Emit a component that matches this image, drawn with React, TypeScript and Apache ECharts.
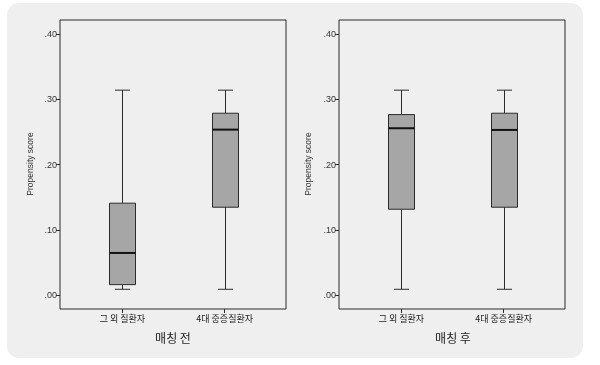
import React, { useEffect, useRef } from "react";
import * as echarts from "echarts";

const categories = ["그 외 질환자", "4대 중증질환자"];
const panelTitles = ["매칭 전", "매칭 후"];
const yTicks = [0, 0.1, 0.2, 0.3, 0.4];
// [min, Q1, median, Q3, max]
const beforeBoxes = [
  [0.0092, 0.0163, 0.0648, 0.141, 0.314],
  [0.0092, 0.1348, 0.2536, 0.2787, 0.314],
];
const afterBoxes = [
  [0.0092, 0.1317, 0.2557, 0.2766, 0.314],
  [0.0092, 0.1348, 0.2531, 0.2787, 0.314],
];

const fmt = (v: number) => "." + Math.round(v * 100).toString().padStart(2, "0");

function renderBox(params: any, api: any) {
  const x = api.value(0);
  const mn = api.value(1), q1 = api.value(2), md = api.value(3), q3 = api.value(4), mx = api.value(5);
  const pMin = api.coord([x, mn]);
  const pQ1 = api.coord([x, q1]);
  const pMd = api.coord([x, md]);
  const pQ3 = api.coord([x, q3]);
  const pMax = api.coord([x, mx]);
  const cx = Math.round(pMin[0]) + 0.5;
  const bw = 26;
  const cw = 15;
  const stroke = "#2b2b2b";
  return {
    type: "group",
    children: [
      { type: "line", shape: { x1: cx, y1: pMax[1], x2: cx, y2: pQ3[1] }, style: { stroke, lineWidth: 1 } },
      { type: "line", shape: { x1: cx, y1: pQ1[1], x2: cx, y2: pMin[1] }, style: { stroke, lineWidth: 1 } },
      { type: "line", shape: { x1: cx - cw / 2, y1: pMax[1], x2: cx + cw / 2, y2: pMax[1] }, style: { stroke, lineWidth: 1 } },
      { type: "line", shape: { x1: cx - cw / 2, y1: pMin[1], x2: cx + cw / 2, y2: pMin[1] }, style: { stroke, lineWidth: 1 } },
      {
        type: "rect",
        shape: { x: cx - bw / 2, y: pQ3[1], width: bw, height: pQ1[1] - pQ3[1] },
        style: { fill: "#a6a6a6", stroke, lineWidth: 1 },
      },
      { type: "line", shape: { x1: cx - bw / 2, y1: pMd[1], x2: cx + bw / 2, y2: pMd[1] }, style: { stroke: "#111", lineWidth: 2 } },
    ],
  };
}

export default function App() {
  const ref = useRef<HTMLDivElement>(null);
  useEffect(() => {
    if (!ref.current) return;
    const chart = echarts.init(ref.current, null, { renderer: "svg" });
    const grids = [
      { left: 60, right: 314, top: 20, bottom: 56 },
      { left: 339, right: 35, top: 20, bottom: 56 },
    ];
    const xAxes = grids.map((_, i) => ({
      type: "value",
      gridIndex: i,
      min: 0.39,
      max: 2.6,
      axisLine: { show: false, onZero: false },
      splitLine: { show: false },
      axisTick: { show: true, customValues: [1, 2], length: 4, lineStyle: { color: "#2b2b2b" } },
      axisLabel: {
        show: true,
        customValues: [1, 2],
        formatter: (v: number) => categories[Math.round(v) - 1] ?? "",
        fontFamily: "Noto Sans CJK KR",
        fontSize: 9,
        color: "#222",
        margin: 5,
      },
    }));
    const yAxes = grids.map((_, i) => ({
      type: "value",
      gridIndex: i,
      min: -0.021,
      max: 0.4214,
      axisLine: { show: false, onZero: false },
      splitLine: { show: false },
      axisTick: { show: true, customValues: yTicks, length: 4, lineStyle: { color: "#2b2b2b" } },
      axisLabel: {
        show: true,
        customValues: yTicks,
        formatter: (v: number) => fmt(v),
        fontFamily: "Liberation Sans Narrow, Liberation Sans",
        fontSize: 9,
        color: "#333",
        margin: 3,
      },
    }));
    chart.setOption({
      animation: false,
      graphic: [
        {
          type: "rect",
          z: -100,
          shape: { x: 7, y: 3, width: 576, height: 355, r: 12 },
          style: { fill: "#efefef" },
        },
        {
          type: "text",
          x: 30,
          y: 164,
          rotation: Math.PI / 2,
          style: { text: "Propensity score", fontSize: 8.5, fontFamily: "Liberation Sans", fill: "#333", align: "center", verticalAlign: "middle" },
        },
        {
          type: "text",
          x: 308,
          y: 164,
          rotation: Math.PI / 2,
          style: { text: "Propensity score", fontSize: 8.5, fontFamily: "Liberation Sans", fill: "#333", align: "center", verticalAlign: "middle" },
        },
        {
          type: "text",
          x: 173,
          y: 337,
          style: { text: panelTitles[0], fontSize: 12, fontFamily: "Noto Sans CJK KR", fill: "#222", align: "center", verticalAlign: "middle" },
        },
        {
          type: "text",
          x: 453,
          y: 337,
          style: { text: panelTitles[1], fontSize: 12, fontFamily: "Noto Sans CJK KR", fill: "#222", align: "center", verticalAlign: "middle" },
        },
      ],
      grid: grids.map((g) => ({ ...g, show: true, borderColor: "#2b2b2b", borderWidth: 1, backgroundColor: "transparent" })),
      xAxis: xAxes,
      yAxis: yAxes,
      series: [beforeBoxes, afterBoxes].map((boxes, i) => ({
        type: "custom",
        xAxisIndex: i,
        yAxisIndex: i,
        renderItem: renderBox,
        encode: { x: 0, y: [1, 2, 3, 4, 5] },
        data: boxes.map((b, j) => [j + 1, ...b]),
      })),
    });
    return () => chart.dispose();
  }, []);
  return <div ref={ref} style={{ position: "fixed", left: 0, top: 0, width: 600, height: 365 }} />;
}
